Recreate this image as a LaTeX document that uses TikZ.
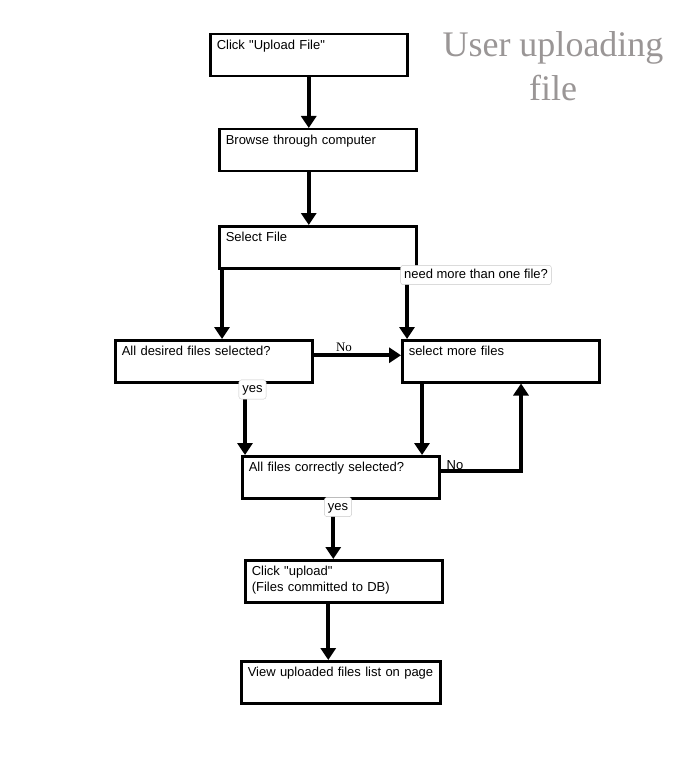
\documentclass[tikz,border=0pt]{standalone}
\usepackage{fontspec}
\setmainfont{Liberation Sans}
\newfontfamily\titlefont{Liberation Serif}
\usepackage{tikz}
\usetikzlibrary{arrows.meta, positioning, calc}
\definecolor{titlegray}{HTML}{9A9696}
\definecolor{taggray}{HTML}{C8C8C8}
\newcommand{\boxfont}{\fontsize{13}{16.5}\selectfont}

\begin{document}
\begin{tikzpicture}[
    x=1pt, y=-1pt,
    box/.style={draw=black, line width=2.5pt, anchor=north west, text width=184pt, inner xsep=6.5pt, inner ysep=5pt, text height=10pt, text depth=22pt, align=left, font=\boxfont},
    arrow/.style={-{Triangle[length=12pt, width=15pt]}, line width=4pt},
    tag/.style={draw=taggray, fill=white, rounded corners=2.5pt, inner xsep=3.5pt, inner ysep=3.5pt, text height=9.5pt, text depth=2.7pt, font=\boxfont}
]
\useasboundingbox (0,0) rectangle (688,762);

% Title
\node[font=\titlefont\fontsize{36}{44}\selectfont, text=titlegray, align=center, inner sep=0pt, anchor=north] (title) at (553,31.5) {User uploading\\file};

% Steps
\node[box] (click) at (209,33) {Click \textquotedbl Upload File\textquotedbl};
\node[box] (browse) at (218,128) {Browse through computer};
\node[box] (select) at (218,225) {Select File};
\node[box] (alldesired) at (114,339) {All desired files selected?};
\node[box] (more) at (401,339) {select more files};
\node[box] (allcorrect) at (241,455) {All files correctly selected?};
\node[box] (upload) at (244,559) {Click \textquotedbl upload\textquotedbl\\(Files committed to DB)};
\node[box, text width=186pt] (view) at (240,660) {View uploaded files list on page};

% Connections
\draw[arrow] (click.south) -- (click.south |- browse.north);
\draw[arrow] (click.south |- browse.south) -- (click.south |- select.north);
\draw[arrow] ([xshift=4pt]select.south west) -- ([xshift=4pt]select.south west |- alldesired.north);
\draw[arrow] ([xshift=6pt]more.north west |- select.south) -- ([xshift=6pt]more.north west);
\draw[arrow] ([yshift=6pt]alldesired.east) -- ([yshift=6pt]alldesired.east -| more.west);
\draw[arrow] ([xshift=4pt]allcorrect.north west |- alldesired.south) -- ([xshift=4pt]allcorrect.north west);
\draw[arrow] ([xshift=21pt]more.south west) -- ([xshift=21pt]more.south west |- allcorrect.north);
\draw[arrow] ([yshift=6pt]allcorrect.east) -| ([xshift=120pt]more.south west);
\draw[arrow] ([xshift=-7.5pt]allcorrect.south) -- ([xshift=-7.5pt]allcorrect.south |- upload.north);
\draw[arrow] ([xshift=-15.5pt]upload.south) -- ([xshift=-15.5pt]upload.south |- view.north);

% Labels
\node[tag] (needmore) at (476,275) {need more than one file?};
\node[tag] (yesdesired) at (252.5,389.5) {yes};
\node[tag] (yescorrect) at (338,507) {yes};
\node[font=\titlefont\fontsize{13}{16}\selectfont] (nodesired) at (344,347) {No};
\node[font=\boxfont] (nocorrect) at (455,465) {No};

\end{tikzpicture}
\end{document}
